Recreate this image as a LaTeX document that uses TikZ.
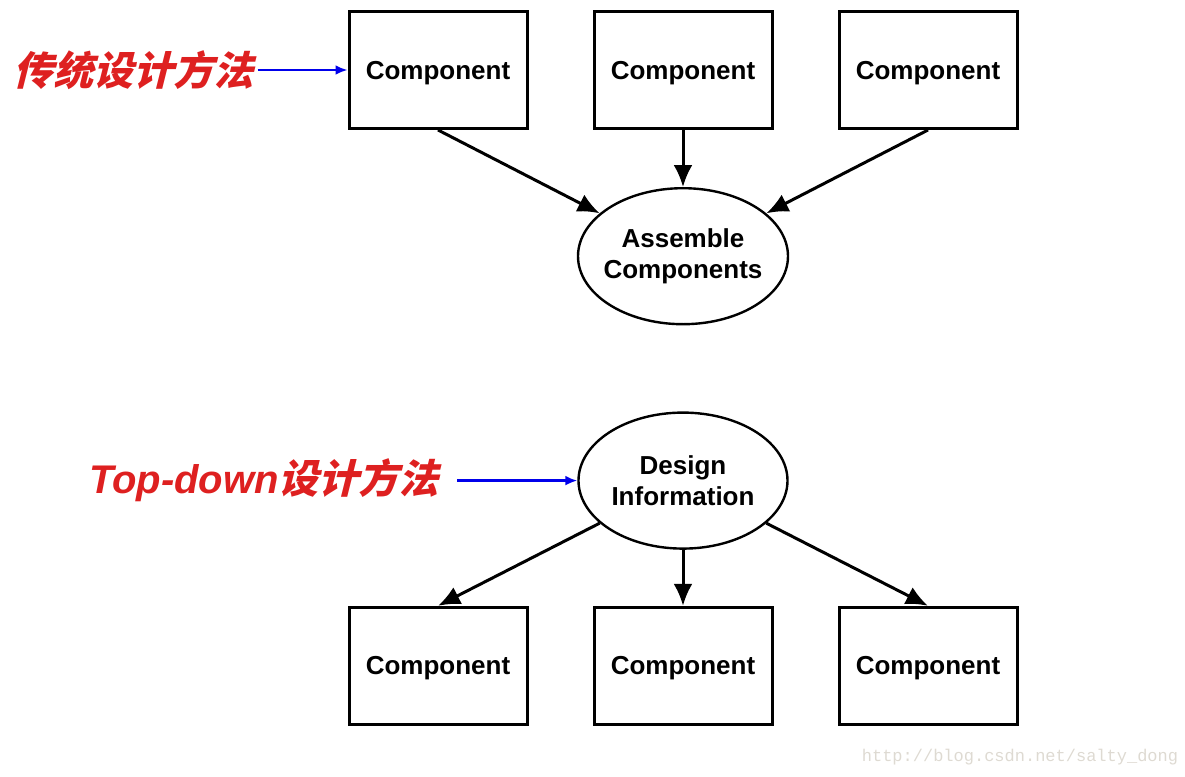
\documentclass[tikz,border=0pt]{standalone}
\usepackage{fontspec}
\setmainfont{Liberation Sans}
\setmonofont{Liberation Mono}
\newfontfamily\cjkit[FakeSlant=0.25]{Noto Sans CJK SC}
\usepackage{tikz}
\usetikzlibrary{arrows.meta,positioning,shapes.geometric}
\definecolor{labelred}{RGB}{222,32,32}
\definecolor{hintblue}{RGB}{0,0,235}
\definecolor{markgray}{RGB}{222,218,210}

\begin{document}
\begin{tikzpicture}[x = 0.5pt, y = -0.5pt,
        block/.style = {draw, line width = 1.5pt, minimum width = 89pt, minimum height = 58.5pt,
            text depth = 0pt, font = \fontsize{13}{15.5}\selectfont\bfseries},
        blob/.style = {ellipse, draw, line width = 1.2pt, minimum width = 104.5pt, minimum height = 68pt,
            inner xsep = -2.6pt, inner ysep = 0pt, align = center, font = \fontsize{13}{15.5}\selectfont\bfseries},
        method/.style = {text = labelred, inner sep = 2pt, font = \fontsize{20}{24}\selectfont},
        flow/.style = {line width = 1.5pt, -{Latex[length = 11pt, width = 9.5pt]}},
        hint/.style = {hintblue, line width = 1.3pt, -{Latex[length = 6pt, width = 5pt]}},
        wmark/.style = {text = markgray, font = \fontsize{8.5}{10}\selectfont\ttfamily}]
        \useasboundingbox (0, 0) rectangle (1185, 777);

        \node [block] (c2) at (683, 70) {Component};
        \node [block] (c1) [left = 32pt of c2] {Component};
        \node [block] (c3) [right = 32pt of c2] {Component};
        \node [blob] (asm) [below = 28.5pt of c2] {Assemble\\Components};
        \node [blob] (des) [below = 43pt of asm] {Design\\Information};
        \node [block] (d2) [below = 28pt of des] {Component};
        \node [block] (d1) [left = 32pt of d2] {Component};
        \node [block] (d3) [right = 32pt of d2] {Component};
        \node [method] (trad) [left = 45pt of c1] {\cjkit\bfseries 传统设计方法};
        \node [method, inner xsep = 9pt] (topd) [left = 60pt of des] {{\bfseries\itshape Top-down}{\cjkit\bfseries 设计方法}};
        \node [wmark] (url) at (1020, 757) {http://blog.csdn.net/salty\_dong};

        \path
            (c1.south) edge [flow] (asm)
            (c2) edge [flow] (asm)
            (c3.south) edge [flow] (asm)
            (des) edge [flow] (d1.north)
                edge [flow] (d2)
                edge [flow] (d3.north)
            (trad) edge [hint] (c1)
            (topd) edge [hint] (des);
    \end{tikzpicture}
\end{document}
